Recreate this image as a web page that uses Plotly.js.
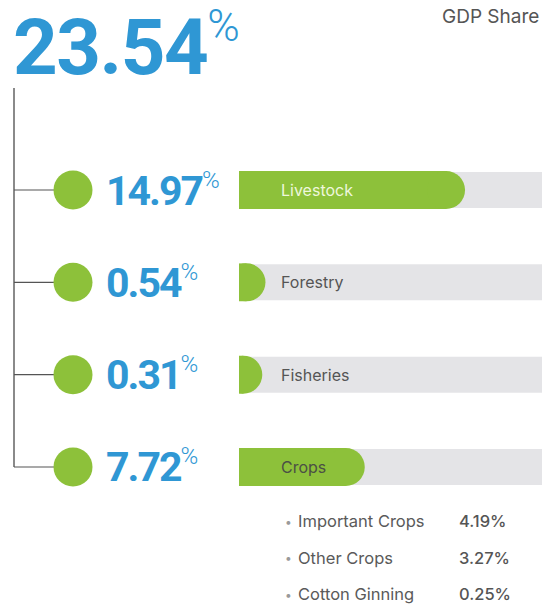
<!DOCTYPE html>
<html>
<head>
<meta charset="utf-8">
<script src="https://cdn.plot.ly/plotly-3.0.1.min.js"></script>
<style>html,body{margin:0;padding:0;background:#fff;}#chart{width:552px;height:607px;}</style>
</head>
<body>
<div id="chart"></div>
<script>
// ---- data ----
const totalShare = 23.54;
const chartTitle = 'GDP Share';
const categories = ['Livestock', 'Forestry', 'Fisheries', 'Crops'];
const shares = [14.97, 0.54, 0.31, 7.72];
const cropParts = ['Important Crops', 'Other Crops', 'Cotton Ginning'];
const cropShares = [4.19, 3.27, 0.25];

// ---- style ----
const W = 552, H = 607;
const BLUE = '#2f97d4';
const GREEN = '#8dc13a';
const TRACK = '#e4e4e7';
const px = v => v / W;            // horizontal pixel -> paper
const rowTop = 190, rowStep = 92.33; // pixel layout of rows
const yTop = -rowTop / rowStep;
const yBot = (H - rowTop) / rowStep;
const idx = categories.map((c, i) => i);
const labelColors = ['#eef7dc', '#555555', '#555555', '#4b4f45'];

const traces = [
  {
    type: 'bar', orientation: 'h',
    x: shares, y: idx,
    width: 0.41,
    marker: {color: GREEN},
    hoverinfo: 'none', showlegend: false
  },
  {
    type: 'scatter', mode: 'markers',
    x: shares, y: idx,
    marker: {color: GREEN, size: 38, line: {width: 0}},
    cliponaxis: true,
    hoverinfo: 'none', showlegend: false
  }
];

const shapes = [];
// tracks
idx.forEach(i => shapes.push({
  type: 'rect', layer: 'below', xref: 'paper', yref: 'y',
  x0: px(239), x1: px(542), y0: i - 0.195, y1: i + 0.195,
  fillcolor: TRACK, line: {width: 0}
}));
// tree vertical line
shapes.push({
  type: 'line', layer: 'below', xref: 'paper', yref: 'y',
  x0: px(14), x1: px(14), y0: -(rowTop - 88) / rowStep, y1: idx.length - 1,
  line: {color: '#8a8a8a', width: 2}
});
// branches + dots
idx.forEach(i => {
  shapes.push({
    type: 'line', layer: 'below', xref: 'paper', yref: 'y',
    x0: px(14), x1: px(56), y0: i, y1: i,
    line: {color: '#555', width: 1.2}
  });
  shapes.push({
    type: 'circle', xref: 'paper', yref: 'y',
    xsizemode: 'pixel', ysizemode: 'pixel',
    xanchor: px(73), yanchor: i,
    x0: -19.5, x1: 19.5, y0: -19.5, y1: 19.5,
    fillcolor: GREEN, line: {width: 0}
  });
});

const annotations = [];
// big total
annotations.push({
  xref: 'paper', yref: 'paper', x: px(11), y: 1 - 46 / H,
  xanchor: 'left', yanchor: 'middle', showarrow: false,
  text: "<span style='letter-spacing:-1.5px'>" + totalShare.toFixed(2) + "</span><sup><span style='font-size:44px;font-weight:300'>%</span></sup>",
  font: {family: 'Roboto', size: 78, weight: 700, color: BLUE}
});
// title
annotations.push({
  xref: 'paper', yref: 'paper', x: px(541), y: 1 - 17 / H,
  xanchor: 'right', yanchor: 'middle', showarrow: false,
  text: chartTitle,
  font: {family: 'Inter', size: 19, color: '#555'}
});
// row values and labels
idx.forEach(i => {
  annotations.push({
    xref: 'paper', yref: 'y', x: px(104), y: i,
    xanchor: 'left', yanchor: 'middle', showarrow: false,
    text: "<span style='letter-spacing:-2px'>" + shares[i].toFixed(2) + "</span><sup><span style='font-size:24px;font-weight:300'>%</span></sup>",
    font: {family: 'Roboto', size: 41, weight: 700, color: BLUE}
  });
  annotations.push({
    xref: 'paper', yref: 'y', x: px(279), y: i,
    xanchor: 'left', yanchor: 'middle', showarrow: false,
    text: categories[i],
    font: {family: 'Inter', size: 16, color: labelColors[i]}
  });
});
// crop breakdown
cropParts.forEach((name, j) => {
  const yy = 1 - (521 + j * 36.5) / H;
  annotations.push({
    xref: 'paper', yref: 'paper', x: px(288), y: yy,
    xanchor: 'center', yanchor: 'middle', showarrow: false,
    text: '•', font: {family: 'Inter', size: 12, color: '#9a9a9a'}
  });
  annotations.push({
    xref: 'paper', yref: 'paper', x: px(296), y: yy,
    xanchor: 'left', yanchor: 'middle', showarrow: false,
    text: name, font: {family: 'Inter', size: 16.5, color: '#5a5a5a'}
  });
  annotations.push({
    xref: 'paper', yref: 'paper', x: px(457), y: yy,
    xanchor: 'left', yanchor: 'middle', showarrow: false,
    text: cropShares[j].toFixed(2) + '%', font: {family: 'Inter', size: 16.5, weight: 500, color: '#555'}
  });
});

const layout = {
  width: W, height: H,
  margin: {l: 0, r: 0, t: 0, b: 0, pad: 0},
  paper_bgcolor: '#fff', plot_bgcolor: 'rgba(0,0,0,0)',
  showlegend: false,
  xaxis: {domain: [px(239), px(542)], range: [0, 303 / 13.83], visible: false, fixedrange: true},
  yaxis: {type: 'linear', range: [yBot, yTop], visible: false, fixedrange: true},
  shapes: shapes,
  annotations: annotations
};

Plotly.newPlot('chart', traces, layout, {staticPlot: true, displayModeBar: false});
</script>
</body>
</html>
